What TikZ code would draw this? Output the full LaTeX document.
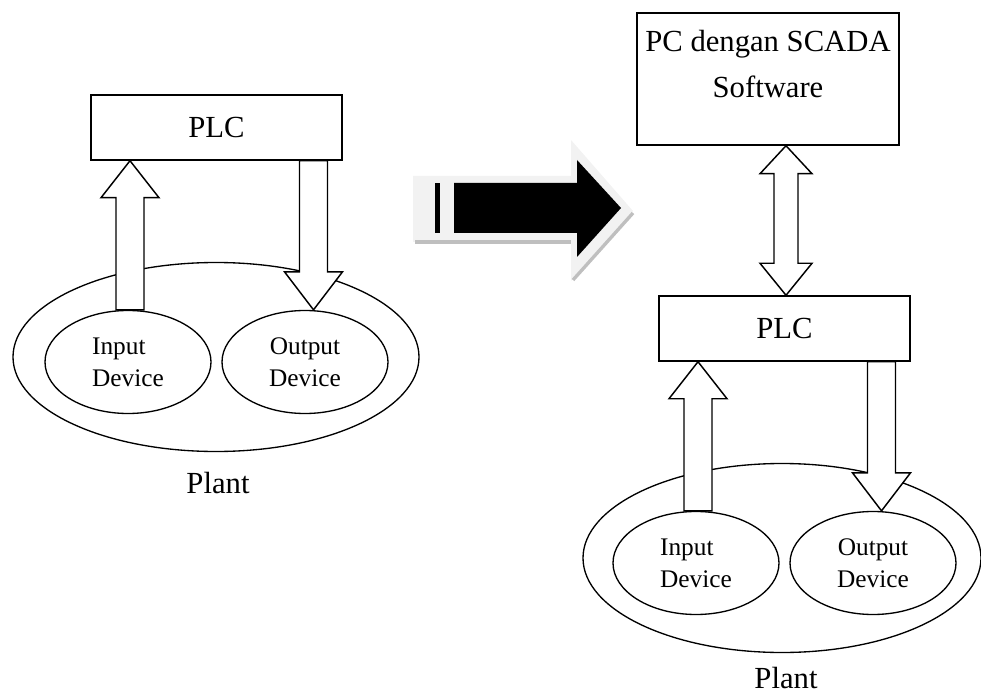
\documentclass[tikz,border=0pt]{standalone}
\usepackage{fontspec}
\setmainfont{Liberation Serif}
\usetikzlibrary{shapes.geometric,calc}
\tikzset{
  box/.style={draw,line width=1.1pt,fill=white,inner sep=0pt},
  blob/.style={draw,ellipse,line width=1pt,inner sep=0pt},
  blockarr/.style={draw,fill=white,line width=1.1pt,line join=miter},
  bigfont/.style={font=\fontsize{23}{27.6}\selectfont},
  smallfont/.style={font=\fontsize{19}{24}\selectfont},
}
% vertical block arrow: tail, tip, head length
\newcommand{\vblock}[3]{%
  \draw[blockarr] ($(#1)+(-14,0)$) -- ($(#2)+(-14,#3)$) -- ($(#2)+(-29,#3)$)
    -- (#2) -- ($(#2)+(29,#3)$) -- ($(#2)+(14,#3)$) -- ($(#1)+(14,0)$) -- cycle;}
\begin{document}
\begin{tikzpicture}[x=0.75pt,y=-0.75pt]
\useasboundingbox (0,0) rectangle (981,695);

% left: PLC only
\node[box,minimum width=251*0.75pt,minimum height=65*0.75pt,bigfont] (lplc) at (216.5,127.5) {PLC};
\node[blob,minimum width=406*0.75pt,minimum height=189*0.75pt] (lplant) at (216,357) {};
\node[blob,minimum width=166*0.75pt,minimum height=103*0.75pt,smallfont,align=left] (lin) at (128,362) {Input\\Device};
\node[blob,minimum width=166*0.75pt,minimum height=103*0.75pt,smallfont,align=center] (lout) at (305,362) {Output\\Device};
\node[bigfont,anchor=base] (lplantlbl) at (218,493) {Plant};
\coordinate (l-in-tail) at ($(lin.north)+(2,0)$);
\coordinate (l-in-tip) at (l-in-tail |- lplc.south);
\vblock{l-in-tail}{l-in-tip}{37}
\coordinate (l-out-tail) at ($(lplc.south)+(97,0)$);
\coordinate (l-out-tip) at (l-out-tail |- lout.north);
\vblock{l-out-tail}{l-out-tip}{-38}

% middle arrow
\fill[gray!10] (413,176) -- (571,176) -- (571,140) -- (633,211) -- (571,281) -- (571,242) -- (413,242) -- cycle;
\fill[black] (454,183) -- (577,183) -- (577,160) -- (621,208) -- (577,257) -- (577,233) -- (454,233) -- cycle;
\fill[black] (435,183) rectangle (440,233);
\draw[gray!50,line width=2.5pt] (415,242) -- (571,242);
\draw[gray!50,line width=2.5pt] (573,280) -- (633,213);

% right: PLC with SCADA
\node[box,minimum width=262*0.75pt,minimum height=132*0.75pt] (rpc) at (768,79) {};
\node[bigfont,align=center,inner sep=0pt,anchor=north,
  font=\fontsize{23}{34.5}\selectfont] (rpctext) at ($(rpc.north)+(0,18)$) {PC dengan SCADA\\Software};
\node[box,minimum width=251*0.75pt,minimum height=65*0.75pt,bigfont] (rplc) at (784.5,328.5) {PLC};
\coordinate (r-bot-tip) at ($(rplc.north)+(1.5,0)$);
\coordinate (r-top-tip) at (r-bot-tip |- rpc.south);
\draw[blockarr] (r-top-tip) -- ++(26,28) -- ++(-14,0) -- ($(r-bot-tip)+(12,-32)$)
  -- ++(14,0) -- (r-bot-tip) -- ++(-26,-32) -- ++(14,0) -- ($(r-top-tip)+(-12,28)$)
  -- ++(-14,0) -- cycle;
\node[blob,minimum width=398*0.75pt,minimum height=189*0.75pt] (rplant) at (782,558) {};
\node[blob,minimum width=166*0.75pt,minimum height=103*0.75pt,smallfont,align=left] (rin) at (696,563) {Input\\Device};
\node[blob,minimum width=166*0.75pt,minimum height=103*0.75pt,smallfont,align=center] (rout) at (873,563) {Output\\Device};
\node[bigfont,anchor=base] (rplantlbl) at (786,688) {Plant};
\coordinate (r-in-tail) at ($(rin.north)+(2,0)$);
\coordinate (r-in-tip) at (r-in-tail |- rplc.south);
\vblock{r-in-tail}{r-in-tip}{37}
\coordinate (r-out-tail) at ($(rplc.south)+(97,0)$);
\coordinate (r-out-tip) at (r-out-tail |- rout.north);
\vblock{r-out-tail}{r-out-tip}{-38}
\end{tikzpicture}
\end{document}
